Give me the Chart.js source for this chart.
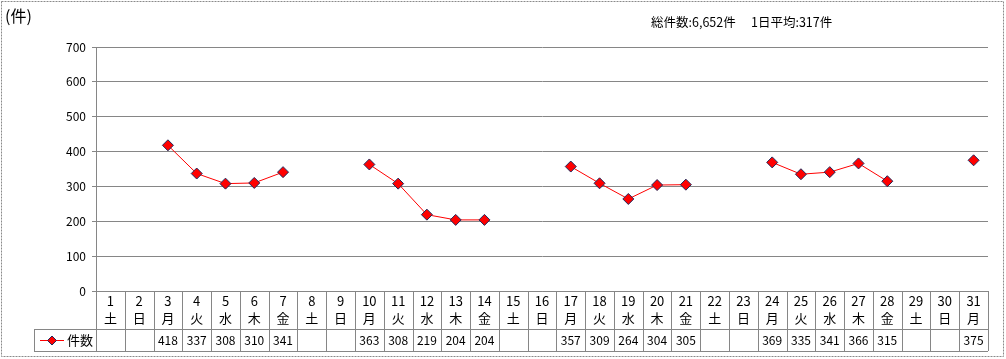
<!DOCTYPE html>
<html><head><meta charset="utf-8">
<script src="https://cdn.jsdelivr.net/npm/chart.js@4/dist/chart.umd.min.js"></script>
<style>html,body{margin:0;padding:0;background:#fff;}canvas{display:block;}</style>
</head><body>
<canvas id="c" width="1006" height="359"></canvas>
<script>
const days = [1,2,3,4,5,6,7,8,9,10,11,12,13,14,15,16,17,18,19,20,21,22,23,24,25,26,27,28,29,30,31];
const weekdays = ['土','日','月','火','水','木','金','土','日','月','火','水','木','金','土','日','月','火','水','木','金','土','日','月','火','水','木','金','土','日','月'];
const counts = [null,null,418,337,308,310,341,null,null,363,308,219,204,204,null,null,357,309,264,304,305,null,null,369,335,341,366,315,null,null,375];
const seriesName = '件数';
const unitLabel = '(件)';
const summaryText = '総件数:6,652件　 1日平均:317件';
const yTicks = [0,100,200,300,400,500,600,700];

const FONT = '"Noto Sans CJK JP", "DejaVu Sans", sans-serif';
const GRID = '#868686';

const tablePlugin = {
  id: 'tablePlugin',
  afterDraw(chart) {
    const ctx = chart.ctx;
    const x = chart.scales.x;
    const area = chart.chartArea;
    const rowTop = 329, rowBot = 351, legLeft = 34;
    ctx.save();
    ctx.strokeStyle = GRID;
    ctx.lineWidth = 1;
    for (let i = 0; i <= days.length; i++) {
      let px;
      if (i === 0) px = area.left;
      else if (i === days.length) px = area.right;
      else px = (x.getPixelForValue(i - 1) + x.getPixelForValue(i)) / 2;
      px = Math.round(px) + 0.5;
      ctx.beginPath(); ctx.moveTo(px, area.bottom); ctx.lineTo(px, rowBot); ctx.stroke();
    }
    ctx.beginPath();
    ctx.moveTo(legLeft, rowTop + 0.5); ctx.lineTo(area.right, rowTop + 0.5);
    ctx.moveTo(legLeft, rowBot + 0.5); ctx.lineTo(area.right, rowBot + 0.5);
    ctx.moveTo(legLeft + 0.5, rowTop); ctx.lineTo(legLeft + 0.5, rowBot);
    ctx.stroke();
    const ly = (rowTop + rowBot) / 2 + 0.5;
    ctx.strokeStyle = '#FF0000';
    ctx.beginPath(); ctx.moveTo(40, ly); ctx.lineTo(64, ly); ctx.stroke();
    ctx.fillStyle = '#FF0000'; ctx.strokeStyle = '#1F2A5C';
    ctx.beginPath(); ctx.moveTo(52, ly - 4.5); ctx.lineTo(56.5, ly); ctx.lineTo(52, ly + 4.5); ctx.lineTo(47.5, ly); ctx.closePath();
    ctx.fill(); ctx.stroke();
    ctx.fillStyle = '#000';
    ctx.font = '13px ' + FONT;
    ctx.textBaseline = 'middle';
    ctx.textAlign = 'left';
    ctx.fillText(seriesName, 67, ly);
    ctx.font = '12px ' + FONT;
    ctx.textAlign = 'center';
    counts.forEach((v, i) => {
      if (v === null) return;
      ctx.fillText(String(v), x.getPixelForValue(i), ly);
    });
    ctx.font = '16px ' + FONT;
    ctx.textAlign = 'left';
    ctx.fillText(unitLabel, 5, 16);
    ctx.font = '12.5px ' + FONT;
    ctx.fillText(summaryText, 651, 22);
    ctx.strokeStyle = '#8a8a8a';
    ctx.setLineDash([2, 1]);
    ctx.strokeRect(1.5, 1.5, 1002, 355);
    ctx.restore();
  }
};

new Chart(document.getElementById('c'), {
  type: 'line',
  data: {
    labels: days.map((d, i) => [String(d), weekdays[i]]),
    datasets: [{
      label: seriesName,
      data: counts,
      borderColor: '#FF0000',
      borderWidth: 1,
      backgroundColor: '#FF0000',
      pointStyle: 'rectRot',
      pointRadius: 5.5,
      pointHoverRadius: 5.5,
      pointBackgroundColor: '#FF0000',
      pointBorderColor: '#1F2A5C',
      pointBorderWidth: 1,
      spanGaps: false,
      tension: 0
    }]
  },
  options: {
    responsive: false,
    animation: false,
    events: [],
    layout: { padding: { left: 0, right: 18, top: 47, bottom: 0 } },
    plugins: { legend: { display: false }, tooltip: { enabled: false }, title: { display: false } },
    scales: {
      x: {
        type: 'category',
        offset: true,
        grid: { display: false, drawTicks: false },
        border: { display: true, color: GRID },
        ticks: {
          autoSkip: false, maxRotation: 0, minRotation: 0,
          color: '#000', padding: 1,
          font: { family: FONT, size: 13, lineHeight: 1.35 }
        },
        afterFit(s) { s.height = 68; }
      },
      y: {
        min: 0, max: 700,
        afterBuildTicks(s) { s.ticks = yTicks.map(v => ({ value: v })); },
        grid: { color: GRID, tickLength: 4, drawTicks: true, tickColor: GRID },
        border: { display: true, color: GRID },
        ticks: { color: '#000', padding: 6, font: { family: FONT, size: 12 } },
        afterFit(s) { s.width = 96; }
      }
    }
  },
  plugins: [tablePlugin]
});
</script>
</body></html>
